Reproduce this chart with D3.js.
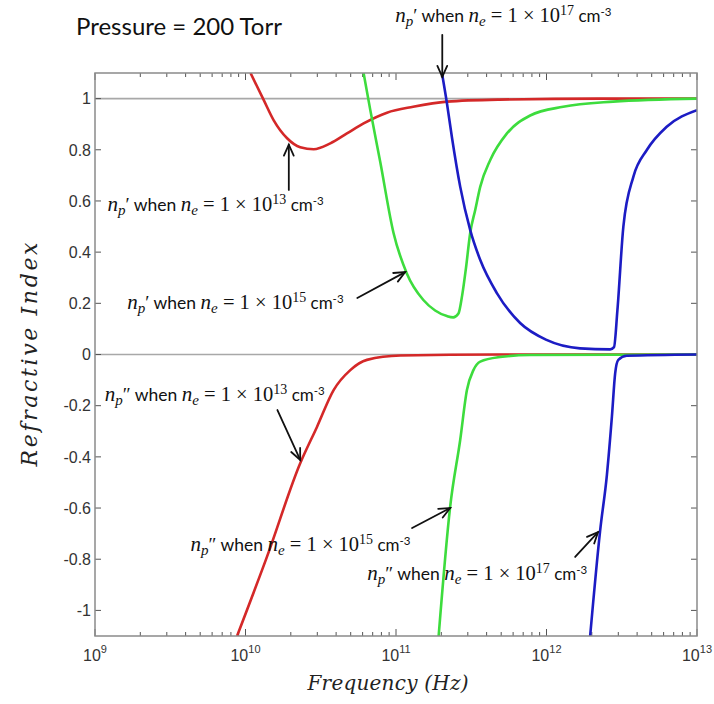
<!DOCTYPE html>
<html lang="en">
<head>
<meta charset="UTF-8">
<title>Refractive Index vs Frequency</title>
<style>
    body { margin: 0; background: #fff; }
    svg { display: block; }
    text { white-space: pre; }
</style>
</head>
<body>
<script src="https://cdn.jsdelivr.net/npm/d3@7"></script>
<script>
    // tick values
    let yTicks = [-1, -0.8, -0.6, -0.4, -0.2, 0, 0.2, 0.4, 0.6, 0.8, 1];
    let yTickLabels = ["-1", "-0.8", "-0.6", "-0.4", "-0.2", "0", "0.2", "0.4", "0.6", "0.8", "1"];
    let xTickExps = [9, 10, 11, 12, 13];

    let redPrimeHz = [1.08e10, 1.32e10, 1.54e10, 1.89e10, 2.31e10, 2.84e10, 3.66e10, 4.72e10, 6.09e10, 8.71e10, 1.30e11, 2.18e11, 4.9e11, 2.27e12, 1e13];
    let redPrimeN = [1.10, 0.995, 0.915, 0.845, 0.810, 0.802, 0.825, 0.864, 0.903, 0.945, 0.968, 0.988, 0.996, 1.0, 1.0];

    let greenPrimeHz = [6.09e10, 6.75e10, 7.86e10, 9.63e10, 1.18e11, 1.52e11, 1.82e11, 2.18e11, 2.40e11, 2.60e11, 2.75e11, 2.92e11, 3.11e11, 3.36e11, 3.63e11, 4.23e11, 5.46e11, 7.79e11, 1.29e12, 2.77e12, 1e13];
    let greenPrimeN = [1.10, 0.955, 0.752, 0.475, 0.317, 0.213, 0.172, 0.150, 0.145, 0.160, 0.230, 0.340, 0.474, 0.565, 0.656, 0.760, 0.864, 0.934, 0.968, 0.988, 1.0];

    let bluePrimeHz = [2.02e11, 2.18e11, 2.35e11, 2.67e11, 3.11e11, 3.63e11, 4.68e11, 6.68e11, 1.00e12, 1.67e12, 2.65e12, 2.81e12, 2.96e12, 3.24e12, 3.78e12, 4.64e12, 6.29e12, 1e13];
    let bluePrimeN = [1.10, 0.982, 0.851, 0.656, 0.487, 0.369, 0.240, 0.123, 0.057, 0.024, 0.020, 0.029, 0.174, 0.499, 0.695, 0.799, 0.890, 0.955];

    // n_p'' (imaginary part)
    let redDblHz = [8.79e9, 1.39e10, 2.31e10, 2.99e10, 3.85e10, 4.97e10, 6.41e10, 1.07e11, 4.9e11, 1e13];
    let redDblN = [-1.10, -0.790, -0.425, -0.282, -0.139, -0.061, -0.021, -0.004, 0, 0];

    let greenDblHz = [1.92e11, 2.29e11, 2.67e11, 2.96e11, 3.27e11, 3.63e11, 4.92e11, 7.79e11, 1e13];
    let greenDblN = [-1.10, -0.595, -0.334, -0.139, -0.061, -0.028, -0.010, -0.002, 0];

    let blueDblHz = [1.95e12, 2.27e12, 2.52e12, 2.72e12, 2.86e12, 3.00e12, 3.41e12, 1e13];
    let blueDblN = [-1.10, -0.69, -0.47, -0.243, -0.073, -0.021, -0.005, 0];

    let colors = {red: "#d42828", green: "#3ddc3d", blue: "#1c1cc4"};

    let width = 714;
    let height = 704;
    let margin = {top: 73, right: 17, bottom: 68, left: 95};

    let svg = d3.select("body").append("svg")
        .attr("width", width)
        .attr("height", height);

    let x = d3.scaleLog().domain([1e9, 1e13]).range([margin.left, width - margin.right]);
    let y = d3.scaleLinear().domain([-1.1, 1.1]).range([height - margin.bottom, margin.top]);

    svg.append("clipPath").attr("id", "plot")
        .append("rect")
        .attr("x", margin.left).attr("y", margin.top)
        .attr("width", width - margin.left - margin.right)
        .attr("height", height - margin.top - margin.bottom);

    // reference lines at 1 and 0
    svg.selectAll(".ref")
        .data([1, 0])
        .enter()
        .append("line")
        .attr("x1", x(1e9)).attr("x2", x(1e13))
        .attr("y1", d => y(d)).attr("y2", d => y(d))
        .attr("stroke", "#a8a8a8")
        .attr("stroke-width", 1.6);

    // ticks
    let minor = [];
    for (let e = 9; e < 13; e++) {
        for (let m = 2; m <= 9; m++) minor.push(m * Math.pow(10, e));
    }
    let tickG = svg.append("g").attr("stroke", "#555").attr("stroke-width", 1);
    [y(-1.1), y(1.1)].forEach((yy, k) => {
        let dir = k === 0 ? -1 : 1;
        tickG.selectAll(null).data(minor).enter().append("line")
            .attr("x1", d => x(d)).attr("x2", d => x(d))
            .attr("y1", yy).attr("y2", yy + dir * 4);
        tickG.selectAll(null).data(xTickExps).enter().append("line")
            .attr("x1", d => x(Math.pow(10, d))).attr("x2", d => x(Math.pow(10, d)))
            .attr("y1", yy).attr("y2", yy + dir * 7);
    });
    [x(1e9), x(1e13)].forEach((xx, k) => {
        let dir = k === 0 ? 1 : -1;
        tickG.selectAll(null).data(yTicks).enter().append("line")
            .attr("x1", xx).attr("x2", xx + dir * 6)
            .attr("y1", d => y(d)).attr("y2", d => y(d));
    });

    // curves
    let line = d3.line()
        .x(d => x(d[0]))
        .y(d => y(d[1]))
        .curve(d3.curveMonotoneX);
    let series = [
        [redPrimeHz, redPrimeN, colors.red],
        [redDblHz, redDblN, colors.red],
        [greenPrimeHz, greenPrimeN, colors.green],
        [greenDblHz, greenDblN, colors.green],
        [bluePrimeHz, bluePrimeN, colors.blue],
        [blueDblHz, blueDblN, colors.blue]
    ];
    svg.append("g").attr("clip-path", "url(#plot)")
        .selectAll("path")
        .data(series)
        .enter()
        .append("path")
        .attr("d", d => line(d3.zip(d[0], d[1])))
        .attr("fill", "none")
        .attr("stroke", d => d[2])
        .attr("stroke-width", 2.6)
        .attr("stroke-linejoin", "round");

    // frame
    svg.append("rect")
        .attr("x", margin.left).attr("y", margin.top)
        .attr("width", width - margin.left - margin.right)
        .attr("height", height - margin.top - margin.bottom)
        .attr("fill", "none")
        .attr("stroke", "#8a8a8a")
        .attr("stroke-width", 1.5);

    // tick labels
    svg.selectAll(".ylab")
        .data(yTicks)
        .enter()
        .append("text")
        .attr("x", margin.left - 4)
        .attr("y", d => y(d))
        .attr("dy", "0.36em")
        .attr("text-anchor", "end")
        .attr("font-family", "Liberation Sans, Arial, sans-serif")
        .attr("font-size", 16)
        .attr("fill", "#333")
        .text((d, i) => yTickLabels[i]);

    let xl = svg.selectAll(".xlab")
        .data(xTickExps)
        .enter()
        .append("text")
        .attr("x", d => x(Math.pow(10, d)))
        .attr("y", height - margin.bottom + 25)
        .attr("text-anchor", "middle")
        .attr("font-family", "Liberation Sans, Arial, sans-serif")
        .attr("font-size", 16)
        .attr("fill", "#333");
    xl.append("tspan").text("10");
    xl.append("tspan").attr("dy", -8).attr("font-size", 11).text(d => d);

    // titles
    svg.append("text")
        .attr("x", 76).attr("y", 35)
        .attr("font-family", "Lato, Open Sans, sans-serif")
        .attr("font-size", 24)
        .attr("fill", "#111")
        .text("Pressure = 200 Torr");

    svg.append("text")
        .attr("transform", "translate(37," + ((margin.top + height - margin.bottom) / 2) + ") rotate(-90)")
        .attr("text-anchor", "middle")
        .attr("font-family", "DejaVu Serif, serif")
        .attr("font-style", "italic")
        .attr("font-size", 22)
        .attr("textLength", 224)
        .attr("lengthAdjust", "spacing")
        .attr("fill", "#222")
        .text("Refractive Index");

    svg.append("text")
        .attr("x", 388).attr("y", 690)
        .attr("text-anchor", "middle")
        .attr("font-family", "DejaVu Serif, serif")
        .attr("font-style", "italic")
        .attr("font-size", 20)
        .attr("textLength", 161)
        .attr("lengthAdjust", "spacing")
        .attr("fill", "#222")
        .text("Frequency (Hz)");

    // annotations: label anchor and arrow (tail -> tip) in data units
    let annPrimes = ["\u2032", "\u2032", "\u2032", "\u2033", "\u2033", "\u2033"];
    let annExps = ["17", "13", "15", "13", "15", "17"];
    let annLayout = [
        {tx: 9.89e10, ty: 1.299, a: [2.03e11, 1.249, 2.03e11, 1.085]},
        {tx: 1.21e9, ty: 0.561, a: [1.94e10, 0.643, 1.94e10, 0.820]},
        {tx: 1.64e9, ty: 0.178, a: [5.53e10, 0.221, 1.15e11, 0.322]},
        {tx: 1.16e9, ty: -0.182, a: [1.63e10, -0.217, 2.31e10, -0.412]},
        {tx: 4.31e9, ty: -0.768, a: [1.28e11, -0.678, 2.29e11, -0.600]},
        {tx: 6.44e10, ty: -0.881, a: [1.55e12, -0.791, 2.20e12, -0.694]}
    ];

    let mathFont = "Liberation Serif, DejaVu Serif, serif";
    let sansFont = "Lato, Open Sans, sans-serif";

    function annotate(i) {
        let L = annLayout[i];
        let t = svg.append("text")
            .attr("x", x(L.tx)).attr("y", y(L.ty))
            .attr("fill", "#111");
        let parts = [
            {s: "n", f: mathFont, it: 1, fs: 21},
            {s: "p", f: mathFont, it: 1, fs: 15, dy: 4},
            {s: annPrimes[i], f: mathFont, fs: 19, dy: -4},
            {s: " when ", f: sansFont, fs: 17.5},
            {s: "n", f: mathFont, it: 1, fs: 21},
            {s: "e", f: mathFont, it: 1, fs: 15, dy: 4},
            {s: " = 1 \u00d7 10", f: mathFont, fs: 20.5, dy: -4},
            {s: annExps[i], f: mathFont, fs: 14, dy: -7},
            {s: " cm", f: sansFont, fs: 17, dy: 7},
            {s: "-3", f: sansFont, fs: 11.5, dy: -6}
        ];
        parts.forEach(p => {
            let ts = t.append("tspan")
                .attr("font-family", p.f)
                .attr("font-size", p.fs)
                .text(p.s);
            if (p.it) ts.attr("font-style", "italic");
            if (p.dy) ts.attr("dy", p.dy);
        });

        let x1 = x(L.a[0]), y1 = y(L.a[1]), x2 = x(L.a[2]), y2 = y(L.a[3]);
        let ang = Math.atan2(y2 - y1, x2 - x1);
        let head = 12, spread = 0.42;
        let g = svg.append("g")
            .attr("stroke", "#111")
            .attr("stroke-width", 1.8)
            .attr("stroke-linecap", "round")
            .attr("fill", "none");
        g.append("line").attr("x1", x1).attr("y1", y1).attr("x2", x2).attr("y2", y2);
        g.append("path").attr("d",
            "M" + (x2 - head * Math.cos(ang - spread)) + "," + (y2 - head * Math.sin(ang - spread)) +
            "L" + x2 + "," + y2 +
            "L" + (x2 - head * Math.cos(ang + spread)) + "," + (y2 - head * Math.sin(ang + spread)));
    }
    for (let i = 0; i < annLayout.length; i++) annotate(i);
</script>
</body>
</html>
